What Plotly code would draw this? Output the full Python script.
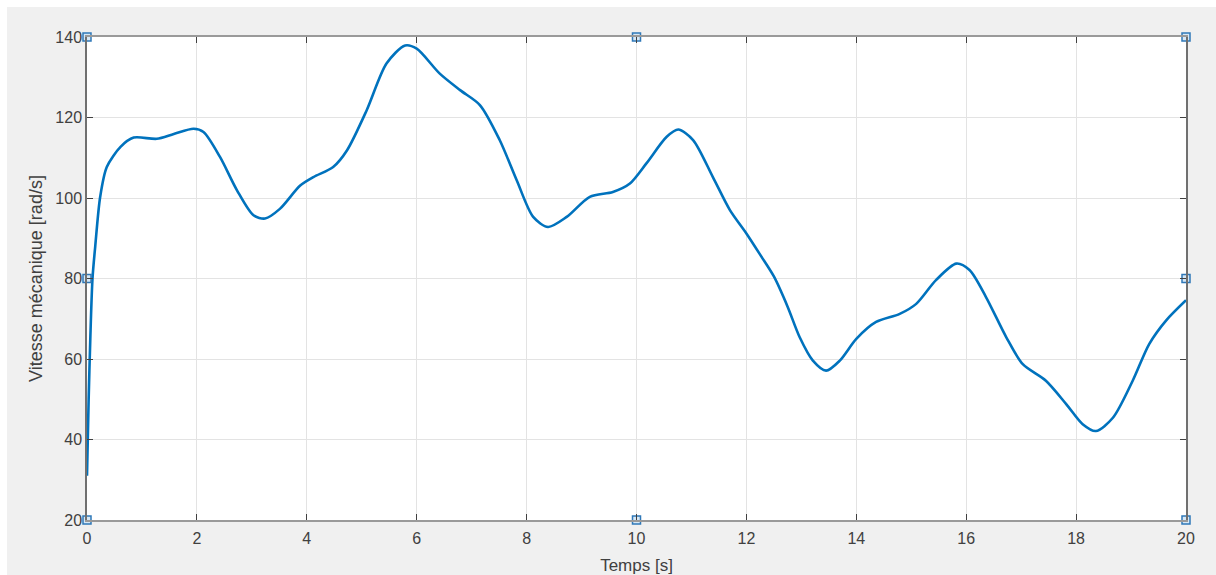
import plotly.graph_objects as go

# Time (s) and mechanical speed (rad/s)
temps = [0.0, 0.03, 0.06, 0.1, 0.15, 0.24, 0.36, 0.61, 0.85, 1.27, 1.58, 1.94, 2.12, 2.42, 2.73,
         3.03, 3.24, 3.51, 3.88, 4.12, 4.48, 4.73, 5.09, 5.45, 5.79, 6.0, 6.42, 6.79, 7.15,
         7.51, 7.82, 8.12, 8.39, 8.73, 9.15, 9.57, 9.88, 10.18, 10.55, 10.76, 11.03, 11.39,
         11.70, 12.0, 12.27, 12.5, 12.75, 12.97, 13.21, 13.45, 13.70, 14.0, 14.36, 14.79,
         15.09, 15.45, 15.82, 16.06, 16.36, 16.73, 17.03, 17.45, 17.82, 18.12, 18.36, 18.67,
         19.03, 19.33, 19.64, 20.0]
vitesse = [31.0, 50.0, 65.0, 80.0, 88.0, 100.3, 107.7, 112.7, 115.0, 114.7, 115.9, 117.2, 116.4,
           110.2, 101.9, 95.7, 94.9, 97.3, 103.1, 105.2, 107.7, 111.8, 121.8, 133.4, 137.9,
           137.1, 130.9, 126.8, 123.1, 114.4, 104.4, 95.3, 92.8, 95.3, 100.3, 101.5, 103.6,
           108.6, 115.2, 117.0, 114.4, 105.2, 97.0, 91.2, 85.5, 80.5, 73.0, 65.4, 59.6, 57.1,
           59.6, 65.0, 69.2, 71.2, 73.7, 79.6, 83.7, 82.1, 75.4, 65.4, 58.7, 54.6, 48.8, 43.8,
           42.1, 45.4, 54.6, 63.7, 69.6, 74.6]

# Selection handle positions (edit-mode squares on the axes box)
handle_x = [0, 10, 20, 0, 20, 0, 10, 20]
handle_y = [140, 140, 140, 80, 80, 20, 20, 20]

x_ticks = list(range(0, 21, 2))
y_ticks = list(range(20, 141, 20))

fig = go.Figure()
fig.add_trace(go.Scatter(
    x=temps, y=vitesse, mode="lines",
    line=dict(color="#0072BD", width=2.6, shape="spline", smoothing=0.8),
    hoverinfo="x+y", showlegend=False,
))
fig.add_trace(go.Scatter(
    x=handle_x, y=handle_y, mode="markers",
    marker=dict(symbol="square", size=8, color="#d6e8f7",
                line=dict(color="#2f78b8", width=1.5)),
    cliponaxis=False, showlegend=False, hoverinfo="skip",
))

L, R, T, B = 87, 30, 37, 55
W, H = 1216, 575
pw, ph = W - L - R, H - T - B

fig.update_layout(
    width=W, height=H,
    margin=dict(l=L, r=R, t=T, b=B, autoexpand=False),
    paper_bgcolor="#f0f0f0",
    plot_bgcolor="white",
    font=dict(family="Liberation Sans, Arial, sans-serif", size=16, color="#404040"),
    shapes=[
        dict(type="rect", xref="paper", yref="paper", layer="below",
             x0=-L / pw, x1=-(L - 7) / pw, y0=-B / ph, y1=1 + T / ph,
             fillcolor="white", line=dict(width=0)),
        dict(type="rect", xref="paper", yref="paper", layer="below",
             x0=-L / pw, x1=1 + R / pw, y0=1 + (T - 7) / ph, y1=1 + T / ph,
             fillcolor="white", line=dict(width=0)),
    ],
)
fig.update_xaxes(
    range=[0, 20], tickvals=x_ticks, ticktext=[str(v) for v in x_ticks],
    showgrid=True, gridcolor="#e3e3e3", gridwidth=1, zeroline=False,
    showline=True, mirror="ticks", linecolor="#9a9a9a", linewidth=2,
    ticks="inside", ticklen=6, tickcolor="#404040", ticklabelstandoff=3,
    tickfont=dict(size=16), automargin=False,
    title=dict(text="Temps [s]", font=dict(size=17, color="#404040"), standoff=14),
)
fig.update_yaxes(
    range=[20, 140], tickvals=y_ticks, ticktext=[str(v) for v in y_ticks],
    showgrid=True, gridcolor="#e3e3e3", gridwidth=1, zeroline=False,
    showline=True, mirror="ticks", linecolor="#707070", linewidth=1.5,
    ticks="inside", ticklen=6, tickcolor="#404040",
    tickfont=dict(size=16), automargin=False,
    title=dict(text="Vitesse mécanique [rad/s]", font=dict(size=18, color="#404040"), standoff=8),
)

fig.write_html("out.html")
